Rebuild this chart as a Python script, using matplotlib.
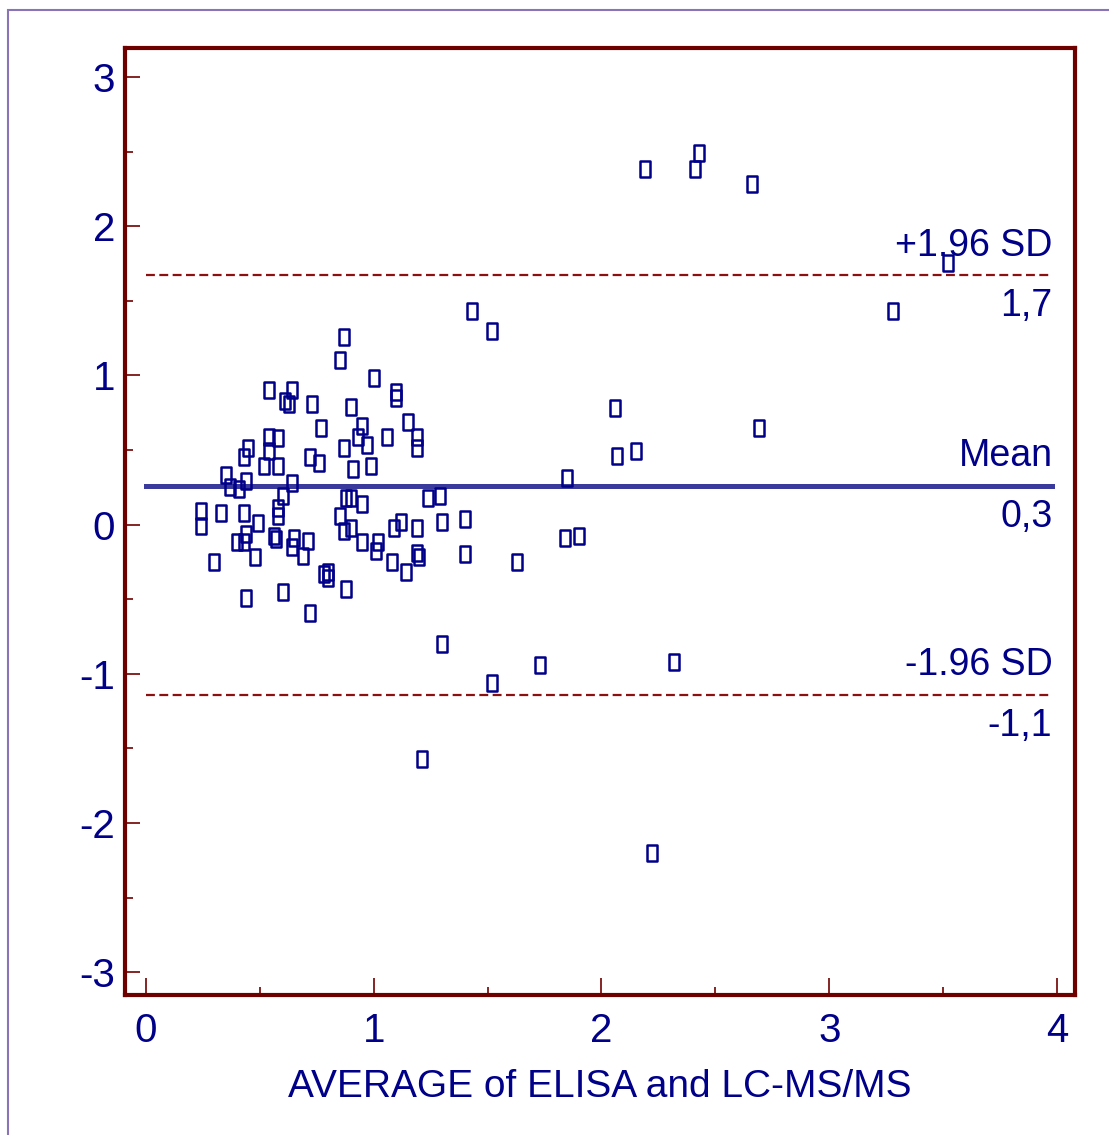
import numpy as np
import matplotlib
matplotlib.use("Agg")
import matplotlib.pyplot as plt
from matplotlib.path import Path
from matplotlib.patches import Rectangle
from matplotlib.ticker import MultipleLocator

# Bland-Altman data: average of the two methods vs difference
avg_vals = [0.54, 0.64, 0.61, 0.63, 0.73, 0.77, 0.54, 0.58, 0.45, 0.54,
            0.43, 0.72, 0.76, 0.52, 0.58, 0.35, 0.44, 0.37, 0.41, 0.64,
            0.60, 0.24, 0.24, 0.33, 0.43, 0.58, 0.58, 0.49, 0.44, 0.40,
            0.43, 0.56, 0.57, 0.65, 0.64, 0.71, 0.69, 0.30, 0.48, 0.78,
            0.44, 0.60, 0.72, 0.87, 0.85, 1.00, 1.10, 1.10, 0.90, 0.95,
            1.15, 0.93, 1.06, 1.19, 0.87, 0.97, 1.19, 0.91, 0.99, 0.88,
            0.90, 0.95, 0.85, 0.87, 0.90, 0.95, 1.01, 1.02, 1.08, 1.09,
            1.12, 1.19, 1.14, 1.19, 1.20, 1.24, 1.29, 1.30, 0.80, 0.80,
            0.88, 1.40, 1.40, 1.63, 1.30, 1.52, 1.73, 1.21, 1.43, 1.52,
            2.06, 2.07, 2.15, 1.85, 1.84, 1.90, 2.69, 2.19, 2.41, 2.43,
            2.66, 3.52, 3.28, 2.32, 2.22]
diff_vals = [0.90, 0.90, 0.83, 0.81, 0.81, 0.65, 0.59, 0.58, 0.51, 0.49,
             0.45, 0.45, 0.41, 0.39, 0.39, 0.33, 0.29, 0.25, 0.24, 0.28,
             0.19, 0.09, -0.01, 0.08, 0.08, 0.11, 0.06, 0.01, -0.06, -0.12,
             -0.12, -0.08, -0.10, -0.09, -0.15, -0.11, -0.21, -0.25, -0.22, -0.33,
             -0.49, -0.45, -0.59, 1.26, 1.10, 0.98, 0.85, 0.89, 0.79, 0.66,
             0.69, 0.59, 0.59, 0.59, 0.51, 0.53, 0.51, 0.37, 0.39, 0.18,
             0.18, 0.14, 0.06, -0.04, -0.02, -0.12, -0.18, -0.12, -0.25, -0.02,
             0.02, -0.02, -0.32, -0.19, -0.22, 0.18, 0.19, 0.02, -0.32, -0.36,
             -0.43, 0.04, -0.20, -0.25, -0.80, -1.06, -0.94, -1.57, 1.43, 1.30,
             0.78, 0.46, 0.49, 0.31, -0.09, -0.08, 0.65, 2.38, 2.38, 2.49,
             2.28, 1.75, 1.43, -0.92, -2.20]

mean_diff = 0.26
upper_loa = 1.67
lower_loa = -1.14
line_labels = [("+1.96 SD", "1,7", upper_loa),
               ("Mean", "0,3", mean_diff),
               ("-1.96 SD", "-1,1", lower_loa)]

NAVY = "#000088"
MAROON = "#6e0000"
plt.rcParams['font.family'] = ["Liberation Sans", "DejaVu Sans"]
plt.rcParams['axes.unicode_minus'] = False  # plain hyphen like the original

fig = plt.figure(figsize=(11.09, 11.35), dpi=100)
ax = fig.add_axes([125/1109, 1-995/1135, 950/1109, 947/1135])

# thin lavender frame around the whole picture
fig.patches.append(Rectangle((8/1109, -0.05), 1.2, 1.05-10/1135, transform=fig.transFigure,
                             fill=False, edgecolor="#8a74b8", linewidth=1.5))

# tall rectangle marker like the original software
box = Path([(-0.345, -0.5), (0.345, -0.5), (0.345, 0.5), (-0.345, 0.5), (-0.345, -0.5)],
           [Path.MOVETO, Path.LINETO, Path.LINETO, Path.LINETO, Path.CLOSEPOLY])

ax.plot(avg_vals, diff_vals, linestyle="none", marker=box, markersize=11,
        markerfacecolor="none", markeredgecolor=NAVY, markeredgewidth=1.8, zorder=3)

xend = 3.98
ax.plot([0, xend], [mean_diff, mean_diff], color="#3a3a9c", linewidth=3.6, zorder=2)
for yv in (upper_loa, lower_loa):
    ax.plot([0, xend], [yv, yv], color="#8b1010", linewidth=1.6,
            dashes=(4, 2), zorder=2)

for top_txt, bot_txt, yv in line_labels:
    ax.annotate(top_txt, (xend, yv), xytext=(0, 14), textcoords="offset points",
                ha="right", va="baseline", fontsize=27, color=NAVY)
    ax.annotate(bot_txt, (xend, yv), xytext=(0, -29.5), textcoords="offset points",
                ha="right", va="baseline", fontsize=27, color=NAVY)

ax.set_xlim(-0.092, 4.079)
ax.set_ylim(-3.153, 3.194)
ax.xaxis.set_major_locator(MultipleLocator(1))
ax.xaxis.set_minor_locator(MultipleLocator(0.5))
ax.yaxis.set_major_locator(MultipleLocator(1))
ax.yaxis.set_minor_locator(MultipleLocator(0.5))

for s in ax.spines.values():
    s.set_color(MAROON)
    s.set_linewidth(3)

ax.tick_params(which="both", direction="in", color=MAROON, width=1.2,
               labelcolor=NAVY, labelsize=29, top=False, right=False)
ax.tick_params(axis="x", which="major", length=12, pad=12)
ax.tick_params(axis="y", which="major", length=11, pad=7)
ax.tick_params(which="minor", length=6)

ax.set_xlabel("AVERAGE of ELISA and LC-MS/MS", fontsize=28, color=NAVY, labelpad=14)

fig.savefig("out.png", dpi=100)
